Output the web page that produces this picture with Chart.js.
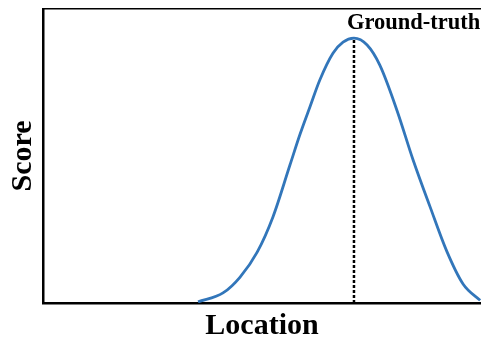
<!DOCTYPE html>
<html>
<head>
<meta charset="utf-8">
<script src="https://cdn.jsdelivr.net/npm/chart.js@4"></script>
<style>
  html, body { margin: 0; padding: 0; background: #fff; }
</style>
</head>
<body>
<canvas id="myChart" width="481" height="344"></canvas>
<script>
// curve: location (0-100 across plot) vs score (peak = 1)
const locations = [35.4, 41.1, 45.0, 48.9, 52.5, 56.4, 58.7, 61.0, 63.2, 66.2, 68.5, 71.0, 74.0, 76.9, 80.8, 84.5, 88.4, 92.2, 95.9, 99.8];
const scores = [0.004, 0.038, 0.098, 0.192, 0.325, 0.522, 0.638, 0.743, 0.842, 0.943, 0.985, 1.0, 0.974, 0.898, 0.728, 0.540, 0.362, 0.195, 0.072, 0.010];
const groundTruth = 71.0;
const groundTruthLabel = 'Ground-truth';
const xTitle = 'Location';
const yTitle = 'Score';

const serif = '"Liberation Serif", "Times New Roman", serif';

const gtLabel = {
    id: 'gtLabel',
    afterDraw(chart) {
        const ctx = chart.ctx;
        const x = chart.scales.x.getPixelForValue(groundTruth);
        ctx.save();
        ctx.font = 'bold 22.5px ' + serif;
        ctx.fillStyle = '#000';
        ctx.textAlign = 'left';
        ctx.textBaseline = 'alphabetic';
        ctx.fillText(groundTruthLabel, x - 7, 29);
        ctx.restore();
    }
};

const ctx = document.getElementById('myChart').getContext('2d');

const myChart = new Chart(ctx, {
    type: 'line',
    data: {
        datasets: [{
            label: 'score',
            data: locations.map((l, i) => ({x: l, y: scores[i]})),
            borderColor: 'rgb(50, 118, 186)',
            borderWidth: 2.8,
            pointRadius: 0,
            fill: false,
            cubicInterpolationMode: 'monotone'
        }, {
            label: 'gt',
            data: [{x: groundTruth, y: 0}, {x: groundTruth, y: 1}],
            borderColor: '#000',
            borderWidth: 2.5,
            borderDash: [3, 2],
            pointRadius: 0,
            fill: false
        }]
    },
    options: {
        responsive: false,
        maintainAspectRatio: false,
        animation: false,
        layout: {padding: 0},
        scales: {
            x: {
                type: 'linear',
                min: 0,
                max: 100,
                grid: {display: false},
                ticks: {display: false},
                border: {display: true, color: '#000', width: 2.5},
                title: {
                    display: true,
                    text: xTitle,
                    color: '#000',
                    font: {family: serif, size: 30, weight: 'bold'},
                    padding: {top: 0, bottom: 0}
                },
                afterFit(scale) { scale.height = 41; }
            },
            xTop: {
                type: 'linear',
                position: 'top',
                min: 0,
                max: 100,
                grid: {display: false},
                ticks: {display: false},
                border: {display: true, color: '#000', width: 1.5},
                afterFit(scale) { scale.height = 9; }
            },
            y: {
                type: 'linear',
                min: 0,
                max: 1.11,
                grid: {display: false},
                ticks: {display: false},
                border: {display: true, color: '#000', width: 2.5},
                title: {
                    display: true,
                    text: yTitle,
                    color: '#000',
                    font: {family: serif, size: 30, weight: 'bold'},
                    padding: {top: 5, bottom: 0}
                },
                afterFit(scale) { scale.width = 43; }
            }
        },
        plugins: {
            legend: {display: false},
            tooltip: {enabled: false}
        }
    },
    plugins: [gtLabel]
});
</script>
</body>
</html>
